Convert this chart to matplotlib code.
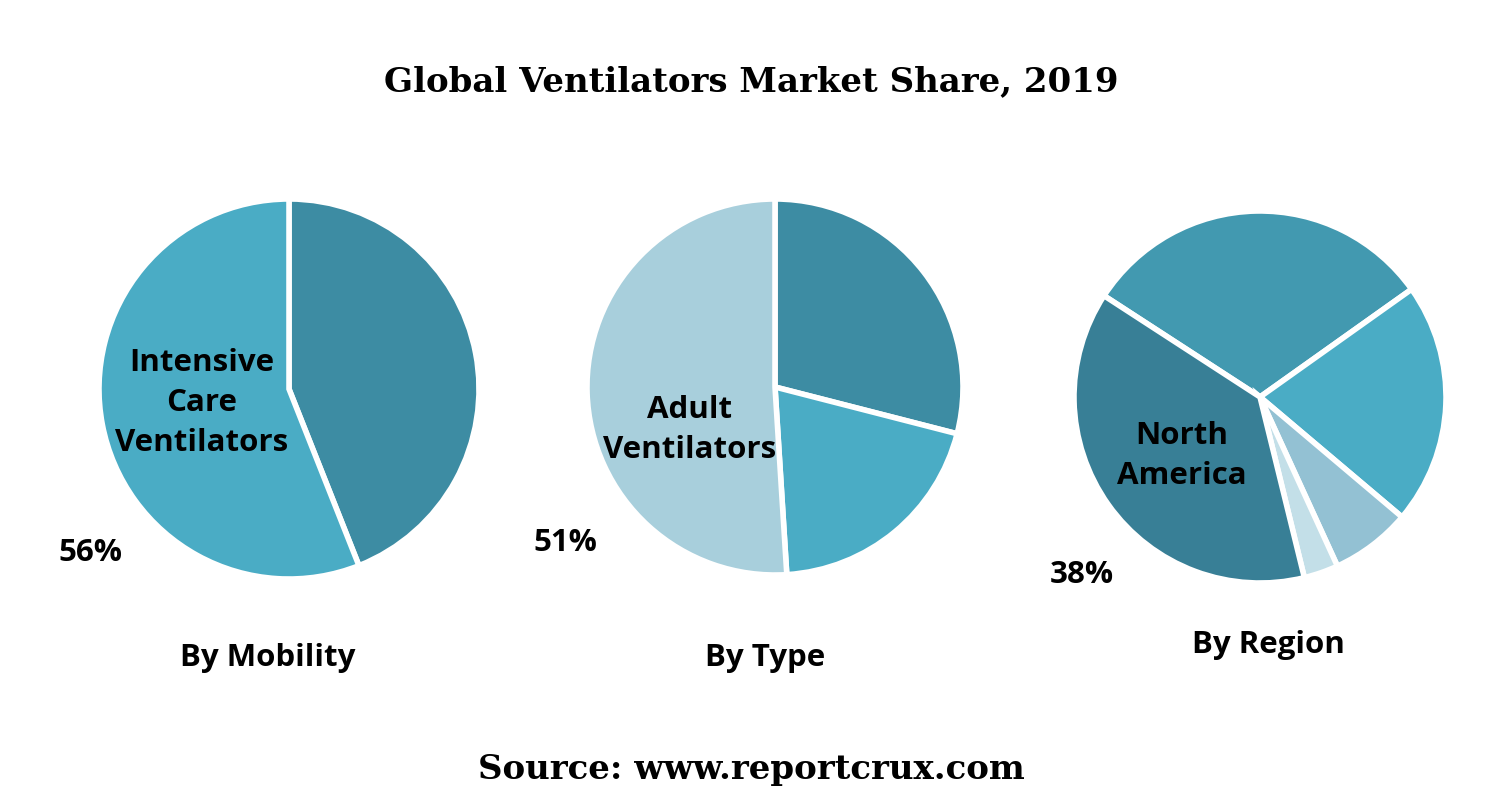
import matplotlib
matplotlib.use('Agg')
import matplotlib.pyplot as plt

W, H = 1502, 792

mobility_shares = [44, 56]
mobility_colors = ['#3d8ca3', '#4aacc5']
type_shares = [29, 20, 51]
type_colors = ['#3d8ca3', '#4aacc5', '#a8cfdc']
region_shares = [31, 21, 7, 3, 38]
region_colors = ['#4299b0', '#4aacc5', '#93c1d3', '#c3dfe8', '#387f96']

fig = plt.figure(figsize=(W / 100, H / 100), dpi=100)
fig.patch.set_facecolor('white')


def pie_at(cx, cy, r, vals, cols, start):
    ax = fig.add_axes([(cx - r) / W, (H - cy - r) / H, 2 * r / W, 2 * r / H])
    ax.pie(vals, colors=cols, startangle=start, counterclock=False,
           wedgeprops=dict(edgecolor='white', linewidth=4))
    ax.set_xlim(-1.0, 1.0)
    ax.set_ylim(-1.0, 1.0)
    ax.set_aspect('equal')
    ax.axis('off')


pie_at(289, 389, 190, mobility_shares, mobility_colors, 90)
pie_at(775, 387, 188, type_shares, type_colors, 90)
pie_at(1260, 397, 186, region_shares, region_colors, 147)


def txt(x, y, s, size=22.5, **kw):
    fig.text(x / W, 1 - y / H, s, fontsize=size, ha='center', va='center',
             family='Open Sans', fontweight='bold', **kw)


fig.text(0.5, 1 - 82 / H, 'Global Ventilators Market Share, 2019', fontsize=24.5,
         ha='center', va='center', family='DejaVu Serif', fontweight='bold')
fig.text(0.5, 1 - 770 / H, 'Source: www.reportcrux.com', fontsize=24.5,
         ha='center', va='center', family='DejaVu Serif', fontweight='bold')

txt(202, 403, 'Intensive\nCare\nVentilators', linespacing=1.45)
txt(90, 553, '56%')
txt(268, 658, 'By Mobility')
txt(690, 430, 'Adult\nVentilators', linespacing=1.45)
txt(565, 543, '51%')
txt(765, 658, 'By Type')
txt(1182, 456, 'North\nAmerica', linespacing=1.45)
txt(1082, 575, '38%')
txt(1268, 645, 'By Region')

fig.savefig('out.png', dpi=100)
